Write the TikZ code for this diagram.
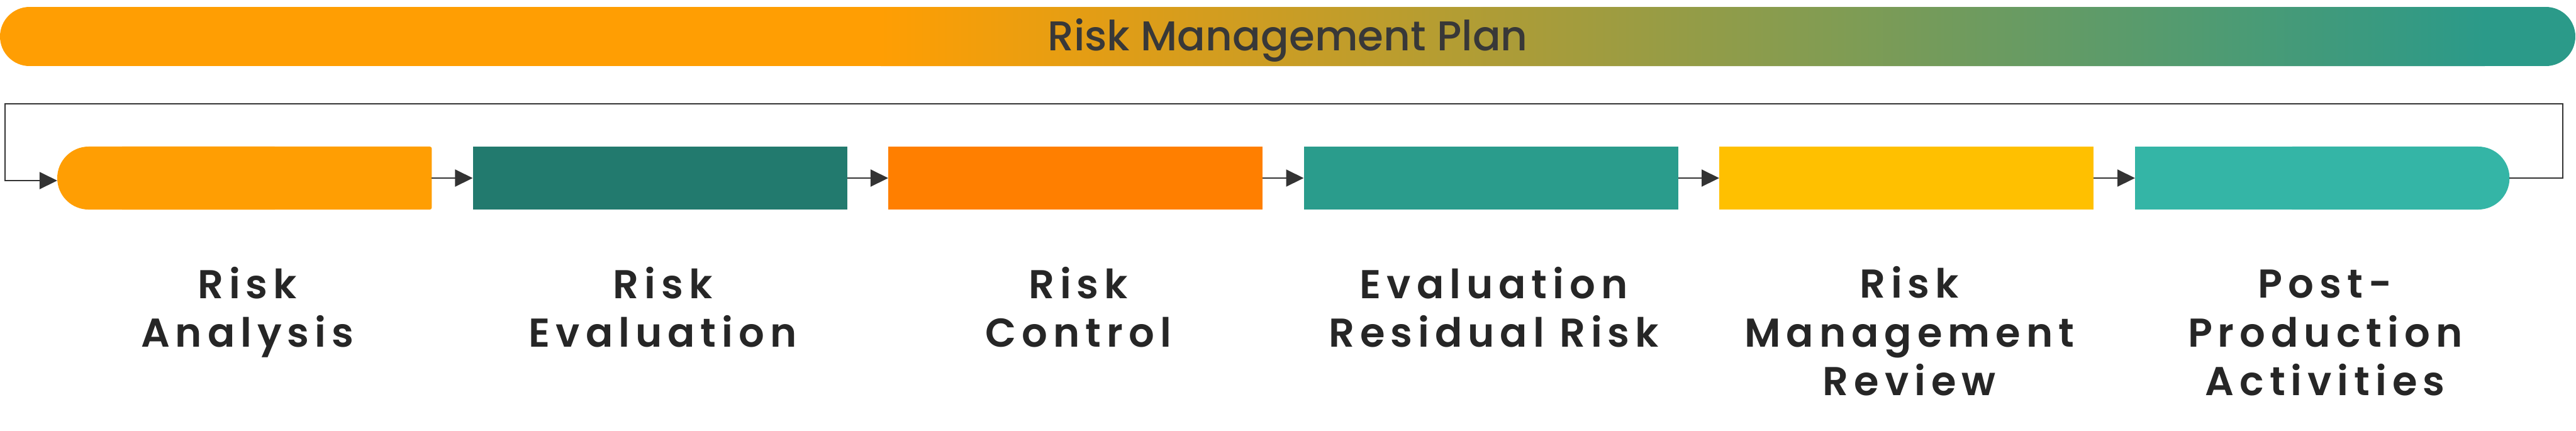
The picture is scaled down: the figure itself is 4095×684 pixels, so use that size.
\documentclass[tikz,border=0pt]{standalone}
\usepackage{fontspec}
\setmainfont{Poppins}
\newfontfamily\titlefont{Poppins Medium}
\newfontfamily\labfont{Poppins SemiBold}[LetterSpace=14]
\usetikzlibrary{arrows.meta}
\definecolor{cA}{HTML}{FF9E03}
\definecolor{cB}{HTML}{227A6E}
\definecolor{cC}{HTML}{FF7F00}
\definecolor{cD}{HTML}{2A9C8C}
\definecolor{cE}{HTML}{FFC000}
\definecolor{cF}{HTML}{34B5A6}
\definecolor{tealT}{HTML}{2B9A89}
\definecolor{arrowc}{HTML}{333333}
\definecolor{titlec}{HTML}{383838}
\definecolor{labc}{HTML}{262626}
\begin{document}
\begin{tikzpicture}[x=0.01cm,y=-0.01cm,
  box/.style={rectangle, inner sep=0pt, outer sep=0pt, minimum width=5.95cm, minimum height=1cm, anchor=west},
  conn/.style={draw=arrowc, line width=0.2mm, -{Triangle[length=2.8mm,width=2.7mm]}},
  lab/.style={font=\labfont\fontsize{18.2pt}{21.9pt}\selectfont, text=labc, align=center, anchor=base, inner sep=0pt},
  ttl/.style={font=\titlefont\fontsize{18.8pt}{22pt}\selectfont, text=titlec, anchor=base, inner sep=0pt}]
\useasboundingbox (0,0) rectangle (4095,684);
% top banner
\begin{scope}
\clip[rounded corners=4.7mm] (0,11) rectangle (4094,105);
\fill[cA] (0,11) rectangle (1402,105);
\shade[left color=cA, right color=tealT] (1400,11) rectangle (3950,105);
\fill[tealT] (3948,11) rectangle (4094,105);
\end{scope}
\node[ttl] (plan) at (2047,80) {Risk Management Plan};
% boxes
\node[box] (b1) at (91,283) {};
\node[box, fill=cB] (b2) at (751.5,283) {};
\node[box, fill=cC] (b3) at (1412,283) {};
\node[box, fill=cD] (b4) at (2072.5,283) {};
\node[box, fill=cE] (b5) at (2733,283) {};
\node[box] (b6) at (3394,283) {};
\fill[cA, rounded corners=5mm] (b1.north west) rectangle ([xshift=-2cm]b1.south east);
\fill[cA, rounded corners=0.3mm] ([xshift=1cm]b1.north west) rectangle (b1.south east);
\fill[cF, rounded corners=5mm] ([xshift=2cm]b6.north west) rectangle (b6.south east);
\fill[cF] (b6.north west) rectangle ([xshift=-1cm]b6.south east);
% connectors
\draw[conn] (b1) -- (b2);
\draw[conn] (b2) -- (b3);
\draw[conn] (b3) -- (b4);
\draw[conn] (b4) -- (b5);
\draw[conn] (b5) -- (b6);
\coordinate (lr) at (4074,165);
\coordinate (ll) at (8,165);
\draw[conn] (b6.east) -| (lr) -- (ll) |- ([yshift=-0.4mm]b1.west);
% labels (anchor = baseline of last line)
\node[lab] (t1) at ([xshift=0.045cm]b1.center |- 0,551) {Risk\\Analysis};
\node[lab] (t2) at ([xshift=0.045cm]b2.center |- 0,551) {Risk\\Evaluation};
\node[lab] (t3) at ([xshift=0.045cm]b3.center |- 0,551) {Risk\\Control};
\node[lab] (t4) at ([xshift=0.045cm]b4.center |- 0,551) {Evaluation\\Residual Risk};
\node[lab] (t5) at ([xshift=0.045cm]b5.center |- 0,628) {Risk\\Management\\Review};
\node[lab] (t6) at ([xshift=0.045cm]b6.center |- 0,628) {Post-\\Production\\Activities};
\end{tikzpicture}
\end{document}
